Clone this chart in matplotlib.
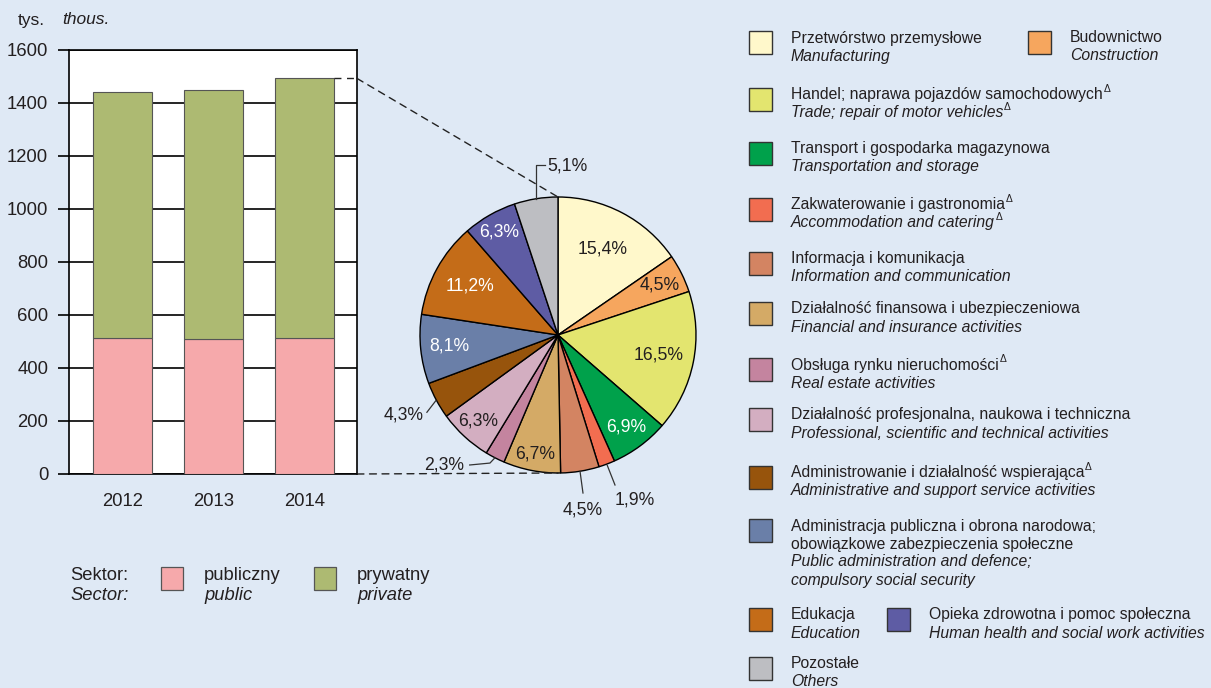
import numpy as np
import matplotlib
matplotlib.use("Agg")
import matplotlib.pyplot as plt
from matplotlib.patches import Rectangle, ConnectionPatch

plt.rcParams['font.family'] = ['Liberation Sans', 'DejaVu Sans']

# Bar chart data (thousands)
years = ['2012', '2013', '2014']
public = [514, 508, 511]
total = [1440, 1447, 1491]
private = [t - p for t, p in zip(total, public)]

# Pie chart data (2014, %); a trailing Δ is drawn as a superscript
shares = [15.4, 4.5, 16.5, 6.9, 1.9, 4.5, 6.7, 2.3, 6.3, 4.3, 8.1, 11.2, 6.3, 5.1]
names_pl = ['Przetwórstwo przemysłowe', 'Budownictwo',
            'Handel; naprawa pojazdów samochodowychΔ',
            'Transport i gospodarka magazynowa',
            'Zakwaterowanie i gastronomiaΔ',
            'Informacja i komunikacja',
            'Działalność finansowa i ubezpieczeniowa',
            'Obsługa rynku nieruchomościΔ',
            'Działalność profesjonalna, naukowa i techniczna',
            'Administrowanie i działalność wspierającaΔ',
            'Administracja publiczna i obrona narodowa;\nobowiązkowe zabezpieczenia społeczne',
            'Edukacja', 'Opieka zdrowotna i pomoc społeczna', 'Pozostałe']
names_en = ['Manufacturing', 'Construction',
            'Trade; repair of motor vehiclesΔ',
            'Transportation and storage',
            'Accommodation and cateringΔ',
            'Information and communication',
            'Financial and insurance activities',
            'Real estate activities',
            'Professional, scientific and technical activities',
            'Administrative and support service activities',
            'Public administration and defence;\ncompulsory social security',
            'Education', 'Human health and social work activities', 'Others']
colors = ['#fff8cb', '#f6a65e', '#e3e56f', '#00a14b', '#f26d50', '#d38462',
          '#d4aa66', '#c4849f', '#d3aec1', '#97540c', '#6a7fa8', '#c46c18',
          '#5e5ca4', '#bdbec2']

BG = '#dfe9f5'
TXT = '#231f20'
W, H = 1211, 688

fig = plt.figure(figsize=(W / 100, H / 100), dpi=100, facecolor=BG)


def px(x, y):
    return x / W, 1 - y / H


# ---- bar chart ----
ax = fig.add_axes([69 / W, 1 - 474 / H, 288 / W, 424.5 / H])
ax.set_facecolor('white')
x = np.arange(len(years))
bw = 0.65
ax.bar(x, public, bw, color='#f6a9ab', edgecolor='#555555', linewidth=0.8, zorder=3)
ax.bar(x, private, bw, bottom=public, color='#adba72', edgecolor='#555555',
       linewidth=0.8, zorder=3)
ax.set_xlim(-0.585, 2.58)
ax.set_ylim(0, 1600)
ax.set_yticks(range(0, 1601, 200))
ax.set_xticks(x)
ax.set_xticklabels(years)
ax.grid(axis='y', color='black', linewidth=1.2, zorder=1)
ax.tick_params(axis='y', direction='out', length=8, width=1.2, pad=7,
               labelsize=13.3, labelcolor=TXT)
ax.tick_params(axis='x', length=0, pad=14, labelsize=13.3, labelcolor=TXT)
for s in ax.spines.values():
    s.set_linewidth(1.2)

fig.text(*px(18, 20), 'tys.', fontsize=12.5, color=TXT, va='center')
fig.text(*px(62, 20), 'thous.', fontsize=12.5, color=TXT, va='center', style='italic')

# sector legend
fig.text(*px(70, 575), 'Sektor:', fontsize=13.2, color=TXT, va='center')
fig.text(*px(70, 596), 'Sector:', fontsize=13.2, color=TXT, va='center', style='italic')
for xp, col, pl, en in [(161, '#f6a9ab', 'publiczny', 'public'),
                        (314, '#adba72', 'prywatny', 'private')]:
    fig.add_artist(Rectangle(px(xp, 590), 22 / W, 23 / H, facecolor=col,
                             edgecolor='#555555', linewidth=0.9,
                             transform=fig.transFigure))
    fig.text(*px(xp + 43, 575), pl, fontsize=13.2, color=TXT, va='center')
    fig.text(*px(xp + 43, 596), en, fontsize=13.2, color=TXT, va='center',
             style='italic')

# ---- pie chart ----
cx, cy, r = 558, 335, 138
pax = fig.add_axes([(cx - r) / W, 1 - (cy + r) / H, 2 * r / W, 2 * r / H])
wedges, _ = pax.pie(shares, colors=colors, startangle=90, counterclock=False,
                    wedgeprops=dict(edgecolor='black', linewidth=1.0))
pax.set_xlim(-1, 1)
pax.set_ylim(-1, 1)
pax.set_aspect('equal')
pax.axis('off')

labels = [f'{v:.1f}%'.replace('.', ',') for v in shares]
inside = {0: (0.70, TXT), 1: (0.82, TXT), 2: (0.74, TXT), 3: (0.83, 'white'),
          6: (0.88, TXT), 8: (0.85, TXT), 10: (0.79, 'white'),
          11: (0.73, 'white'), 12: (0.86, 'white')}
for i, (rad, col) in inside.items():
    w = wedges[i]
    a = np.deg2rad((w.theta1 + w.theta2) / 2)
    pax.text(rad * np.cos(a), rad * np.sin(a), labels[i], ha='center',
             va='center', fontsize=12.7, color=col)


def edge(i, rad=1.0):
    w = wedges[i]
    a = np.deg2rad((w.theta1 + w.theta2) / 2)
    return rad * np.cos(a), rad * np.sin(a)


lk = dict(color='#333333', linewidth=0.9, clip_on=False)
tk = dict(fontsize=12.7, color=TXT, va='center')
# 5,1% others
ex, ey = edge(13)
pax.plot([ex, ex, ex + 0.065], [ey, 1.23, 1.23], **lk)
pax.text(ex + 0.08, 1.225, labels[13], ha='left', **tk)
# 4,3% admin support
ex, ey = edge(9, 1.005)
pax.plot([ex, -0.95], [ey, -0.56], **lk)
pax.text(-0.975, -0.58, labels[9], ha='right', **tk)
# 2,3% real estate
ex, ey = edge(7, 1.0)
pax.plot([ex, -0.493, -0.64], [ey, -0.928, -0.942], **lk)
pax.text(-0.68, -0.942, labels[7], ha='right', **tk)
# 4,5% information
ex, ey = edge(5, 1.0)
pax.plot([ex, 0.181], [ey, -1.145], **lk)
pax.text(0.181, -1.265, labels[5], ha='center', **tk)
# 1,9% accommodation
ex, ey = edge(4, 1.01)
pax.plot([ex, 0.413], [ey, -1.087], **lk)
pax.text(0.558, -1.196, labels[4], ha='center', **tk)

# dashed connectors from 2014 bar to the pie
dk = dict(color='#222222', linewidth=1.0, linestyle=(0, (5, 4)))
xr = ax.get_xlim()[1]
ax.plot([2 + bw / 2, xr], [total[2], total[2]], clip_on=False, zorder=5, **dk)
for yb, yp in [(total[2], 1), (0, -1)]:
    con = ConnectionPatch(xyA=(xr, yb), coordsA=ax.transData,
                          xyB=(0, yp), coordsB=pax.transData, **dk)
    fig.add_artist(con)

# ---- legend ----
leg_pos = [(749, 31), (1028, 31), (749, 88), (749, 142), (749, 198),
           (749, 252), (749, 302), (749, 358), (749, 408), (749, 466),
           (749, 519), (749, 608), (887, 608), (749, 657)]
ls = 18


def leg_text(xx, yy, t, style):
    sup = t.endswith('Δ')
    if sup:
        t = t[:-1]
    tx = fig.text(*px(xx, yy), t, fontsize=11.3, color=TXT, va='center',
                  style=style)
    if sup:
        ax.annotate('Δ', xy=(1.0, 1.0), xycoords=tx, xytext=(0.5, -1),
                    textcoords='offset points', fontsize=7.5, color=TXT,
                    ha='left', va='center', annotation_clip=False)


for i, (lx, ly) in enumerate(leg_pos):
    fig.add_artist(Rectangle(px(lx, ly + 23), 23 / W, 23 / H,
                             facecolor=colors[i], edgecolor='#333333',
                             linewidth=1.0, transform=fig.transFigure))
    yy = ly + 7
    for t in names_pl[i].split('\n'):
        leg_text(lx + 42, yy, t, 'normal')
        yy += ls
    for t in names_en[i].split('\n'):
        leg_text(lx + 42, yy, t, 'italic')
        yy += ls

fig.savefig('out.png', dpi=100, facecolor=BG)
